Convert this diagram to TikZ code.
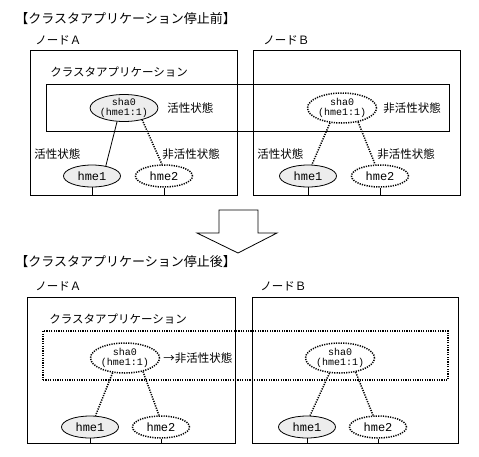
\documentclass[tikz,border=0pt]{standalone}
\usepackage{fontspec}
\usepackage{tikz}
\usetikzlibrary{shapes.geometric}
\newfontfamily\jpfont{Noto Sans CJK JP}
\newfontfamily\ifacefont{Liberation Mono}

\tikzset{
  nodebox/.style={draw, line width=0.9pt, inner sep=0pt},
  dots/.style={line width=1.5pt, dash pattern=on 1.2pt off 1.2pt},
  shaon/.style={ellipse, draw, line width=0.8pt, fill=black!7, inner sep=0pt, minimum width=58pt, minimum height=27pt, align=center, font=\ifacefont\fontsize{10}{9.5}\selectfont},
  shaoff/.style={shaon, dots, fill=white, minimum width=69pt, minimum height=30pt},
  hmeon/.style={ellipse, draw, line width=0.8pt, fill=black!7, inner sep=0pt, minimum width=57pt, minimum height=22pt, font=\ifacefont\fontsize{12}{12}\selectfont},
  hmeoff/.style={hmeon, dots, fill=white},
  jptext/.style={inner sep=0pt, anchor=west, font=\jpfont\fontsize{11.5}{12}\selectfont},
  jptitle/.style={jptext, font=\jpfont\fontsize{13}{14}\selectfont}
}

\begin{document}
\begin{tikzpicture}[x=1pt, y=-1pt, line width=0.8pt]
\useasboundingbox (0,0) rectangle (479,456);

% Before the cluster application stops
\node[jptitle] (title1) at (15,19) {【クラスタアプリケーション停止前】};
\node[jptext] (nameA1) at (35,40) {ノードＡ};
\node[jptext] (nameB1) at (263,40) {ノードＢ};
\node[nodebox, minimum width=207pt, minimum height=145pt] (boxA1) at (133.5,122.5) {};
\node[nodebox, minimum width=207pt, minimum height=145pt] (boxB1) at (356.5,122.5) {};
\node[nodebox, minimum width=403pt, minimum height=47pt] (app1) at (247.5,107.5) {};
\node[jptext] (applbl1) at (50,72) {クラスタアプリケーション};

\node[shaon] (shaA1) at (124,108) {sha0\\(hme1:1)};
\node[shaoff] (shaB1) at (342,108) {sha0\\(hme1:1)};
\node[jptext] (stA1) at (167,108) {活性状態};
\node[jptext] (stB1) at (383,108) {非活性状態};

\node[hmeon] (hmeA1) at (92,176) {hme1};
\node[hmeoff] (hmeA2) at (164,176) {hme2};
\node[hmeon] (hmeB1) at (308,176) {hme1};
\node[hmeoff] (hmeB2) at (380,176) {hme2};

\node[jptext] (upA1) at (34,154) {活性状態};
\node[jptext] (dnA1) at (162,154) {非活性状態};
\node[jptext] (upB1) at (257,154) {活性状態};
\node[jptext] (dnB1) at (377,154) {非活性状態};

\draw (shaA1.-117) -- (hmeA1.36);
\draw (shaA1.-33) -- (hmeA2.100) [dots];
\draw (shaB1.-129) -- (hmeB1.71) [dots];
\draw (shaB1.-41) -- (hmeB2.113) [dots];

\foreach \n/\b in {hmeA1/boxA1, hmeA2/boxA1, hmeB1/boxB1, hmeB2/boxB1}
  \draw (\n.south) -- (\n.south |- \b.south);

% Arrow between the two states
\draw (219,210) -- (258,210) -- (258,233) -- (277,233) -- (238,253)
  -- (197,233) -- (219,233) -- cycle;

% After the cluster application stops
\node[jptitle] (title2) at (15,262) {【クラスタアプリケーション停止後】};
\node[jptext] (nameA2) at (35,286) {ノードＡ};
\node[jptext] (nameB2) at (260,286) {ノードＢ};
\node[nodebox, minimum width=208pt, minimum height=146pt] (boxA2) at (131,370) {};
\node[nodebox, minimum width=206pt, minimum height=146pt] (boxB2) at (355,370) {};
\node[nodebox, dots, minimum width=405pt, minimum height=49pt] (app2) at (245.5,355.5) {};
\node[jptext] (applbl2) at (49,319) {クラスタアプリケーション};

\node[shaoff] (shaA2) at (125,358) {sha0\\(hme1:1)};
\node[shaoff] (shaB2) at (340,358) {sha0\\(hme1:1)};
\node[jptext] (stA2) at (163,358) {→非活性状態};

\node[hmeon] (hmeA3) at (90,427) {hme1};
\node[hmeoff] (hmeA4) at (161,427) {hme2};
\node[hmeon] (hmeB3) at (307,427) {hme1};
\node[hmeoff] (hmeB4) at (378,427) {hme2};

\draw (shaA2.-130) -- (hmeA3.64) [dots];
\draw (shaA2.-37) -- (hmeA4.100) [dots];
\draw (shaB2.-125) -- (hmeB3.75) [dots];
\draw (shaB2.-42) -- (hmeB4.113) [dots];

\foreach \n/\b in {hmeA3/boxA2, hmeA4/boxA2, hmeB3/boxB2, hmeB4/boxB2}
  \draw (\n.south) -- (\n.south |- \b.south);

\end{tikzpicture}
\end{document}
